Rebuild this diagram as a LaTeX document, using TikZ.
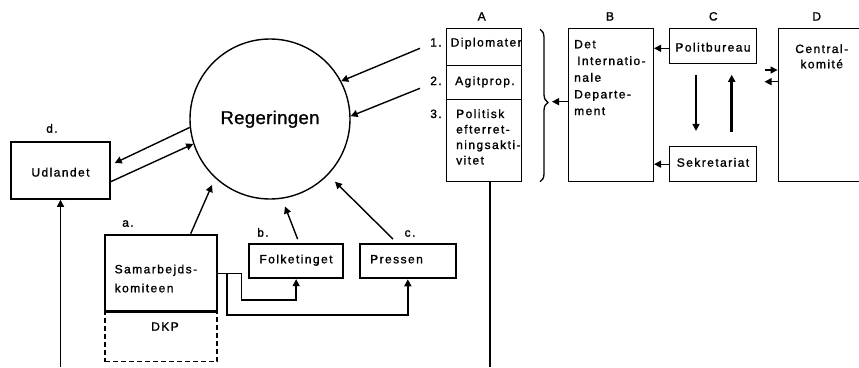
\documentclass[tikz,border=0pt]{standalone}
\usepackage{fontspec}
\setmainfont{Liberation Sans}[LetterSpace=12, FakeBold=1.3]
\newfontfamily\regfont{Liberation Sans}[LetterSpace=2, FakeBold=1]
\usetikzlibrary{arrows.meta,decorations.pathreplacing,calc}
\tikzset{
  box/.style={draw, line width=1.5pt, inner sep=0pt, rectangle},
  txt/.style={inner sep=0pt, font=\fontsize{12}{14}\selectfont},
  tl/.style={txt, anchor=base west},
  tc/.style={txt, anchor=base},
  arr/.style={line width=1.4pt, -{Triangle[length=7pt,width=7pt]}},
  conn/.style={line width=1.4pt}
}
\begin{document}
\begin{tikzpicture}[x=1pt,y=-1pt]
\useasboundingbox (0,0) rectangle (859,367);
\clip (0,0) rectangle (859,367);
\fill[white] (0,0) rectangle (859,367);

% Regeringen
\node[circle, draw, line width=1.4pt, minimum size=160pt, inner sep=0pt] (reg) at (270,119) {};
\node[inner sep=0pt, anchor=base, font=\regfont\fontsize{18.5}{20}\selectfont] (regt) at (270,124) {Regeringen};

% Udlandet
\node[box, minimum width=99pt, minimum height=57pt] (udl) at (60.5,170.5) {};
\node[tc] (udlt) at (60.5,176.5) {Udlandet};
\node[tc] (ld) at (52,132.7) {d.};

% Samarbejdskomiteen / DKP
\node[box, dash pattern=on 5pt off 3pt, line width=1.3pt, minimum width=112pt, minimum height=50pt] (dkp) at (161,336.7) {};
\node[box, line width=2.6pt, minimum width=112pt, minimum height=76.7pt] (sam) at (161,273.35) {};
\node[tl] (samt1) at (114.5,273.3) {Samarbejds-};
\node[tl] (samt2) at (114.5,292.3) {komiteen};
\node[tc] (dkpt) at (165,330.7) {DKP};
\node[tc] (la) at (128,226.7) {a.};

% Folketinget, Pressen
\node[box, line width=1.7pt, minimum width=94.3pt, minimum height=34.3pt] (fol) at (296.15,261.15) {};
\node[tc] (folt) at (296,263.3) {Folketinget};
\node[tc] (lb) at (263,236.7) {b.};
\node[box, line width=1.9pt, minimum width=95.7pt, minimum height=34.3pt] (pre) at (407.85,261.15) {};
\node[tl] (pret) at (370,263.3) {Pressen};
\node[tc] (lc) at (410,236.7) {c.};

% Column A
\node[box, minimum width=75pt, minimum height=37.4pt] (a1) at (484.2,47) {};
\node[box, minimum width=75pt, minimum height=33.6pt] (a2) at (484.2,82.5) {};
\node[box, minimum width=75pt, minimum height=82.4pt] (a3) at (484.2,140.5) {};
\node[tl] (a1t) at (450.5,46.5) {Diplomater};
\node[tl] (a2t) at (455,85) {Agitprop.};
\node[tl] (a3t1) at (456,118) {Politisk};
\node[tl] (a3t2) at (456,133.5) {efterret-};
\node[tl] (a3t3) at (456,149) {ningsakti-};
\node[tl] (a3t4) at (456,164.5) {vitet};
\node[tc] (n1) at (436,46.5) {1.};
\node[tc] (n2) at (436,85) {2.};
\node[tc] (n3) at (436,118) {3.};

% Column letters
\node[tc] (hA) at (481.7,20.5) {A};
\node[tc] (hB) at (610,20.5) {B};
\node[tc] (hC) at (713.3,20.5) {C};
\node[tc] (hD) at (816.7,20.5) {D};

% Column B
\node[box, minimum width=85pt, minimum height=153.4pt] (bb) at (610.8,105) {};
\node[tl] (bt1) at (574,48.3) {Det};
\node[tl] (bt2) at (577,65) {Internatio-};
\node[tl] (bt3) at (574,81.7) {nale};
\node[tl] (bt4) at (574,98.4) {Departe-};
\node[tl] (bt5) at (574,115.1) {ment};

% Column C
\node[box, minimum width=87.4pt, minimum height=35pt] (pb) at (713,45.8) {};
\node[tc] (pbt) at (713,51.5) {Politbureau};
\node[box, minimum width=87.4pt, minimum height=35pt] (sk) at (713,164.2) {};
\node[tc] (skt) at (713,166.7) {Sekretariat};

% Column D
\node[box, minimum width=103.4pt, minimum height=153.4pt] (dd) at (830,105) {};
\node[tc] (ddt1) at (821.7,53) {Central-};
\node[tc] (ddt2) at (821.7,68.3) {komité};

% Connectors left part
\draw[arr] (reg.186.5) -- ([xshift=4pt,yshift=7.5pt]udl.east);
\draw[arr] ([yshift=-11.2pt]udl.east) -- (reg.198);
\coordinate (ub) at (60.5,367);
\draw[arr] (ub) -- (udl.south);
\coordinate (s1) at (420,48.3);
\coordinate (s2) at (420,88.3);
\draw[arr] (s1) -- (reg.28);
\draw[arr] (s2) -- (reg.2);
\coordinate (tipA) at ($(reg.center)+(-58,66)$);
\coordinate (tipB) at ($(reg.center)+(15,87.5)$);
\coordinate (tipC) at ($(reg.center)+(65,62.7)$);
\draw[arr] ([xshift=29.7pt]sam.north) -- (tipA);
\draw[arr] ([xshift=1.5pt,yshift=4pt]fol.north) -- (tipB);
\draw[arr] ([xshift=-14.85pt,yshift=4pt]pre.north) -- (tipC);
\draw[arr] (sam.east) -- ++(23,0) -- ++(0,26.7) -| (fol.south);
\draw[arr] ([xshift=8.7pt]sam.east) -- ++(0,41.7) -| (pre.south);

% Connectors right part
\draw[arr] ([yshift=-2.5pt]pb.west) -- ([yshift=-2.5pt]pb.west -| bb.east);
\draw[arr] (sk.west) -- (sk.west -| bb.east);
\draw[arr] ([xshift=-17pt,yshift=-10.7pt]pb.south) -- ([xshift=-17pt,yshift=15pt]sk.north);
\draw[arr, line width=2.6pt] ([xshift=18.7pt,yshift=14pt]sk.north) -- ([xshift=18.7pt,yshift=-10.7pt]pb.south);
\draw[arr] ([xshift=-13pt,yshift=35pt]dd.west) -- ([yshift=35pt]dd.west);
\draw[arr] ([yshift=23.3pt]dd.west) -- ([xshift=-13pt,yshift=23.3pt]dd.west);

% Brace
\coordinate (br1) at (540,29.3);
\coordinate (br2) at (540,181.7);
\draw[line width=1.3pt, decorate, decoration={brace, amplitude=8pt, aspect=0.48}] (br1) -- (br2);
\coordinate (brtip) at (552,101.7);
\draw[arr] ([yshift=3.3pt]bb.west) -- (brtip);

% Line below A
\coordinate (ab) at (490,367);
\draw[conn] ([xshift=5.8pt]a3.south) -- (ab);
\end{tikzpicture}
\end{document}
